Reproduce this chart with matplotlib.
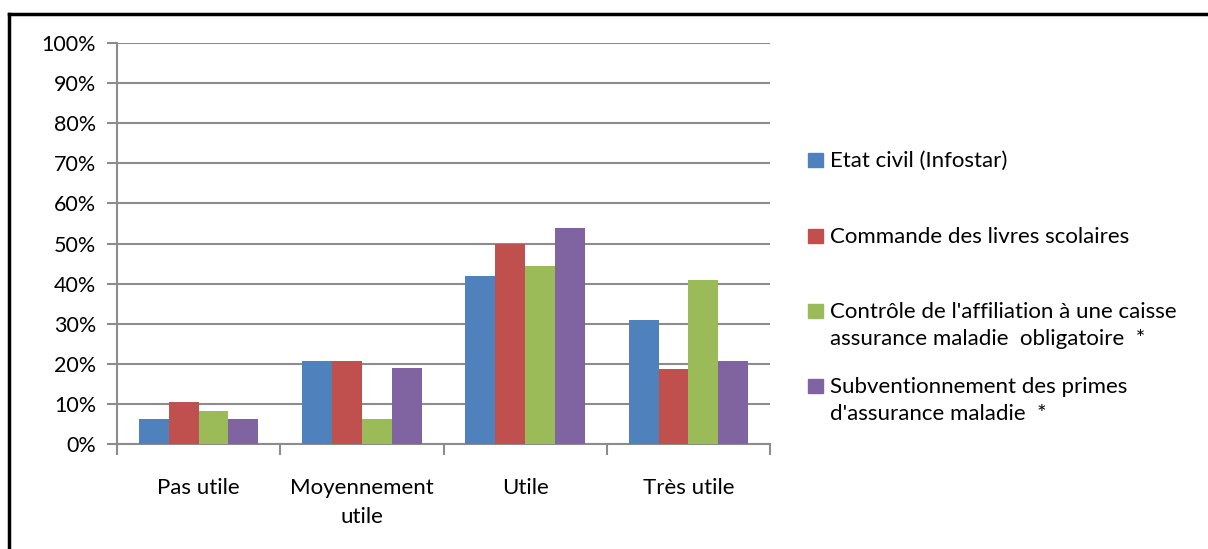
import matplotlib
matplotlib.use("Agg")
import matplotlib.pyplot as plt
from matplotlib.patches import Rectangle
from matplotlib.lines import Line2D
import numpy as np

categories = ["Pas utile", "Moyennement\nutile", "Utile", "Très utile"]
series_names = [
    "Etat civil (Infostar)",
    "Commande des livres scolaires",
    "Contrôle de l'affiliation à une caisse\nassurance maladie  obligatoire  *",
    "Subventionnement des primes\nd'assurance maladie  *",
]
etat_civil = [6.2, 20.7, 41.8, 31.0]
livres = [10.5, 20.7, 49.8, 18.8]
affiliation = [8.2, 6.2, 44.5, 40.8]
subvention = [6.2, 19.0, 53.8, 20.6]
colors = ["#4F81BD", "#C0504D", "#9BBB59", "#8064A2"]
yticks = list(range(0, 101, 10))

plt.rcParams['font.family'] = ['Lato', 'DejaVu Sans']

W, H = 1208, 549
fig = plt.figure(figsize=(W / 100, H / 100), dpi=100)

def fx(px):
    return px / W

def fy(py):
    return 1 - py / H

ax = fig.add_axes([fx(117), fy(444), fx(770) - fx(117), fy(43) - fy(444)])

data = [etat_civil, livres, affiliation, subvention]
x = np.arange(len(categories))
bw = 0.183
for i, (vals, c) in enumerate(zip(data, colors)):
    ax.bar(x + (i - 1.5) * bw, vals, width=bw, color=c, zorder=3)

ax.set_xlim(-0.5, len(categories) - 0.5)
ax.set_ylim(0, 100)
ax.set_yticks(yticks)
ax.set_yticklabels([f"{v}%" for v in yticks], fontsize=15.5)
ax.yaxis.grid(True, color="#8C8C8C", linewidth=1.5, zorder=0)
ax.set_axisbelow(True)
ax.tick_params(axis='y', length=7, width=1.5, color="#8C8C8C", pad=8)
ax.set_xticks(np.arange(-0.5, len(categories) + 0.5, 1))
ax.set_xticklabels([])
ax.tick_params(axis='x', length=8, width=1.5, color="#8C8C8C")
for xi, lab in zip(x, categories):
    ax.text(xi, -8.6, lab, ha='center', va='top', fontsize=16,
            linespacing=1.55, transform=ax.transData)
for s in ["top", "right"]:
    ax.spines[s].set_visible(False)
ax.spines["left"].set_color("#8C8C8C")
ax.spines["left"].set_linewidth(1.5)
ax.spines["bottom"].set_color("#8C8C8C")
ax.spines["bottom"].set_linewidth(1.5)

# outer frame (top and left)
fig.add_artist(Line2D([fx(9), 1], [fy(14), fy(14)], color="black", linewidth=2.5, transform=fig.transFigure))
fig.add_artist(Line2D([fx(9), fx(9)], [fy(14), 0], color="black", linewidth=2.5, transform=fig.transFigure))

# legend
legend_y = [160, 236, 311, 386]
for name, c, yy in zip(series_names, colors, legend_y):
    fig.add_artist(Rectangle((fx(808), fy(yy + 7)), fx(823) - fx(808), fy(yy - 7) - fy(yy + 7),
                             color=c, transform=fig.transFigure))
    fig.text(fx(830), fy(yy - 9), name, ha='left', va='top', fontsize=16, linespacing=1.42)

fig.savefig("out.png", dpi=100)
